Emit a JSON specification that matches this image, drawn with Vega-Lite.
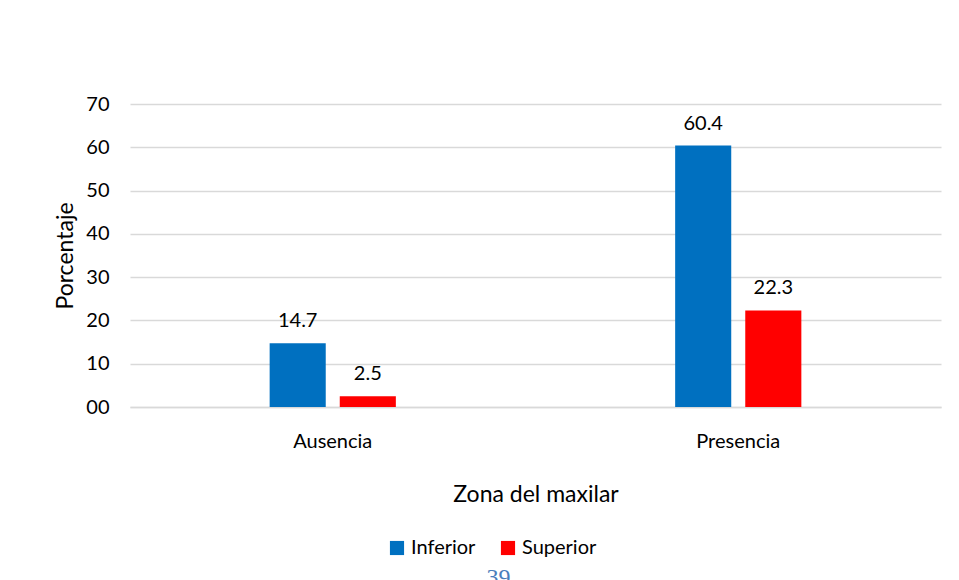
{
  "$schema": "https://vega.github.io/schema/vega-lite/v6.json",
  "width": 811,
  "height": 303,
  "autosize": {"type": "none"},
  "padding": {"left": 130, "top": 104, "right": 18, "bottom": 173},
  "background": "white",
  "config": {
    "font": "Lato",
    "view": {"stroke": null}
  },
  "title": {
    "text": "39", "orient": "bottom", "anchor": "middle", "font": "Liberation Serif",
    "fontSize": 24, "fontWeight": "normal", "color": "#4a7ebb", "offset": 8, "dx": -37
  },
  "data": {
    "values": [
      {"zona": "Ausencia", "grupo": "Inferior", "pct": 14.7},
      {"zona": "Ausencia", "grupo": "Superior", "pct": 2.5},
      {"zona": "Presencia", "grupo": "Inferior", "pct": 60.4},
      {"zona": "Presencia", "grupo": "Superior", "pct": 22.3}
    ]
  },
  "encoding": {
    "x": {
      "field": "zona", "type": "nominal",
      "scale": {"paddingInner": 0.343, "paddingOuter": 0.1715},
      "axis": {
        "title": "Zona del maxilar", "labelAngle": 0, "labelFontSize": 20, "labelColor": "#000",
        "labelPadding": 24, "ticks": false, "domainColor": "#d9d9d9", "domainWidth": 1.5,
        "titleFontSize": 23, "titleFontWeight": "normal", "titleColor": "#000", "titlePadding": 32
      }
    },
    "xOffset": {"field": "grupo", "type": "nominal", "scale": {"paddingInner": 0.2, "paddingOuter": 1}},
    "y": {
      "field": "pct", "type": "quantitative",
      "scale": {"domain": [0, 70]},
      "axis": {
        "title": "Porcentaje", "values": [0, 10, 20, 30, 40, 50, 60, 70],
        "labelExpr": "datum.value == 0 ? '00' : datum.label",
        "labelFontSize": 20, "labelColor": "#000", "labelPadding": 21, "ticks": false, "domain": false,
        "gridColor": "#d9d9d9", "gridWidth": 1.5,
        "titleFontSize": 23, "titleFontWeight": "normal", "titleColor": "#000", "titlePadding": 8
      }
    }
  },
  "layer": [
    {
      "mark": {"type": "bar"},
      "encoding": {
        "color": {
          "field": "grupo", "type": "nominal",
          "scale": {"domain": ["Inferior", "Superior"], "range": ["#0070c0", "#ff0000"]},
          "legend": {
            "orient": "none", "legendX": 257, "legendY": 434, "direction": "horizontal", "title": null,
            "symbolType": "square", "symbolSize": 200, "symbolStrokeWidth": 0,
            "labelFontSize": 20, "labelColor": "#000", "columnPadding": 22
          }
        }
      }
    },
    {
      "mark": {"type": "text", "baseline": "bottom", "dy": -12, "fontSize": 20, "color": "#000"},
      "encoding": {"text": {"field": "pct", "type": "quantitative", "format": ".1f"}}
    }
  ]
}
